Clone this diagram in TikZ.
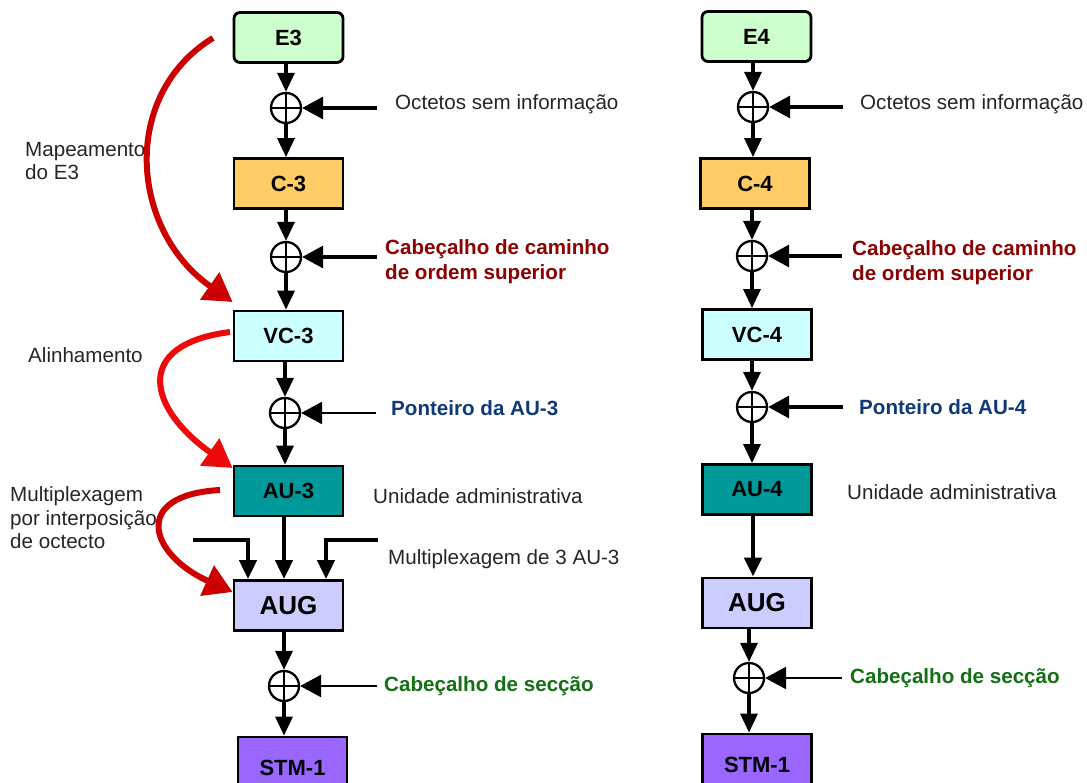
\documentclass[tikz,border=0pt]{standalone}
\usepackage{fontspec}
\setmainfont{Liberation Sans}
\usetikzlibrary{arrows.meta}
\definecolor{egreen}{HTML}{CCFFCC}
\definecolor{corange}{HTML}{FFCC66}
\definecolor{vccyan}{HTML}{CCFFFF}
\definecolor{auteal}{HTML}{009999}
\definecolor{augblue}{HTML}{CCCCFF}
\definecolor{stmpurple}{HTML}{9966FF}
\definecolor{hdrred}{HTML}{8B0000}
\definecolor{ptrblue}{HTML}{0F3A78}
\definecolor{secgreen}{HTML}{137013}
\definecolor{txtgrey}{HTML}{262626}
\definecolor{arrred}{HTML}{CC0000}
\definecolor{arrbright}{HTML}{EE0A0A}
\tikzset{
  stage/.style={draw, line width=2.8pt, minimum width=109pt, minimum height=50pt,
    inner sep=0pt, font=\fontsize{22}{26}\selectfont\bfseries},
  tribbox/.style={stage, rounded corners=6pt},
  adder/.style={circle, draw, line width=2.3pt, minimum size=30pt, inner sep=0pt,
    path picture={\draw[line width=2.3pt]
      (path picture bounding box.north) -- (path picture bounding box.south)
      (path picture bounding box.west) -- (path picture bounding box.east);}},
  flow/.style={line width=3.3pt, -{Triangle[length=19pt,width=17pt]}},
  feed/.style={line width=3.3pt, -{Triangle[length=21pt,width=22pt]}},
  note/.style={anchor=west, inner sep=0pt, align=left, text=txtgrey,
    font=\fontsize{20.6}{23.5}\selectfont},
  boldnote/.style={note, font=\fontsize{20.6}{25}\selectfont\bfseries},
  redsweep/.style={line width=6pt, -{Triangle[length=28pt,width=32pt]}},
}
\begin{document}
\begin{tikzpicture}[x=1pt, y=-1pt]
\clip (0,0) rectangle (1087,783);
\fill[white] (0,0) rectangle (1087,783);

% ---------- E3 chain ----------
\node[tribbox, fill=egreen] (e3) at (288.5,37.5) {E3};
\node[adder] (a1) at (286,108) {};
\node[stage, fill=corange] (c3) at (288.5,183.5) {C-3};
\node[adder] (a2) at (286,257) {};
\node[stage, fill=vccyan] (vc3) at (288.5,336) {VC-3};
\node[adder] (a3) at (285,413) {};
\node[stage, fill=auteal] (au3) at (288.5,491) {AU-3};
\node[stage, fill=augblue, font=\fontsize{26}{30}\selectfont\bfseries] (aug3) at (288.5,605.5) {AUG};
\node[adder] (a4) at (284,686) {};
\node[stage, fill=stmpurple, minimum height=62pt] (stm3) at (292.5,768) {STM-1};

\draw[flow] (e3.south -| a1) -- (a1.north);
\draw[flow] (a1.south) -- (c3.north -| a1);
\draw[flow] (c3.south -| a2) -- (a2.north);
\draw[flow] (a2.south) -- (vc3.north -| a2);
\draw[flow] (vc3.south -| a3) -- (a3.north);
\draw[flow] (a3.south) -- (au3.north -| a3);
\draw[flow, line width=4.2pt] (au3.south -| a4) -- (aug3.north -| a4);
\draw[flow] (aug3.south -| a4) -- (a4.north);
\draw[flow] (a4.south) -- (stm3.north -| a4);

% the other two AU-3 entering the AUG
\coordinate (m3l) at (193,540);
\coordinate (m3r) at (378,540);
\draw[flow, line width=4.2pt] (m3l) -| (aug3.north -| 248,0);
\draw[flow, line width=4.2pt] (m3r) -| (aug3.north -| 326,0);

% side inputs
\coordinate (i1) at (377,108);
\coordinate (i2) at (377,257);
\coordinate (i3) at (376,413);
\coordinate (i4) at (377,686);
\draw[feed] (i1) -- (a1.east);
\draw[feed] (i2) -- (a2.east);
\draw[feed, line width=2.6pt] (i3) -- (a3.east);
\draw[feed, line width=2.6pt] (i4) -- (a4.east);

\node[note] (l1) at (395,104) {Octetos sem informação};
\node[boldnote, text=hdrred] (l2) at (385,262) {Cabeçalho de caminho\\de ordem superior};
\node[boldnote, text=ptrblue] (l3) at (391,408) {Ponteiro da AU-3};
\node[note] (l4) at (373,496) {Unidade administrativa};
\node[note] (l5) at (388,559) {Multiplexagem de 3 AU-3};
\node[boldnote, text=secgreen] (l6) at (384,686) {Cabeçalho de secção};

% ---------- E4 chain ----------
\node[tribbox, fill=egreen] (e4) at (756.5,36.5) {E4};
\node[adder] (b1) at (753,107) {};
\node[stage, fill=corange] (c4) at (755,183.5) {C-4};
\node[adder] (b2) at (752,256) {};
\node[stage, fill=vccyan] (vc4) at (757,334.5) {VC-4};
\node[adder] (b3) at (752,407) {};
\node[stage, fill=auteal] (au4) at (757,489.5) {AU-4};
\node[stage, fill=augblue, font=\fontsize{26}{30}\selectfont\bfseries] (aug4) at (757,603) {AUG};
\node[adder] (b4) at (749,678) {};
\node[stage, fill=stmpurple, minimum height=62pt] (stm4) at (757,765) {STM-1};

\draw[flow] (e4.south -| b1) -- (b1.north);
\draw[flow] (b1.south) -- (c4.north -| b1);
\draw[flow] (c4.south -| b2) -- (b2.north);
\draw[flow] (b2.south) -- (vc4.north -| b2);
\draw[flow] (vc4.south -| b3) -- (b3.north);
\draw[flow] (b3.south) -- (au4.north -| b3);
\draw[flow, line width=4.8pt] (au4.south -| 753,0) -- (aug4.north -| 753,0);
\draw[flow] (aug4.south -| b4) -- (b4.north);
\draw[flow] (b4.south) -- (stm4.north -| b4);

\coordinate (j1) at (843,107);
\coordinate (j2) at (842,256);
\coordinate (j3) at (843,407);
\coordinate (j4) at (842,678);
\draw[feed] (j1) -- (b1.east);
\draw[feed] (j2) -- (b2.east);
\draw[feed] (j3) -- (b3.east);
\draw[feed, line width=2.6pt] (j4) -- (b4.east);

\node[note] (r1) at (860,104) {Octetos sem informação};
\node[boldnote, text=hdrred] (r2) at (852,263) {Cabeçalho de caminho\\de ordem superior};
\node[boldnote, text=ptrblue] (r3) at (859,407) {Ponteiro da AU-4};
\node[note] (r4) at (847,492) {Unidade administrativa};
\node[boldnote, text=secgreen] (r6) at (850,678) {Cabeçalho de secção};

% ---------- process labels and red arrows ----------
\node[note] (p1) at (25,161) {Mapeamento\\do E3};
\node[note] (p2) at (28,355) {Alinhamento};
\node[note] (p3) at (10,518) {Multiplexagem\\por interposição\\de octecto};

\coordinate (s1) at (213,38);
\coordinate (s2) at (230,332);
\coordinate (s3) at (220,490);
\draw[redsweep, arrred] (s1) .. controls (120,95) and (130,230) .. (vc3.west |- 0,302);
\draw[redsweep, arrbright] (s2) .. controls (130,345) and (150,410) .. (au3.west |- 0,468);
\draw[redsweep, arrred] (s3) .. controls (130,495) and (150,555) .. (aug3.west |- 0,592);
\end{tikzpicture}
\end{document}
